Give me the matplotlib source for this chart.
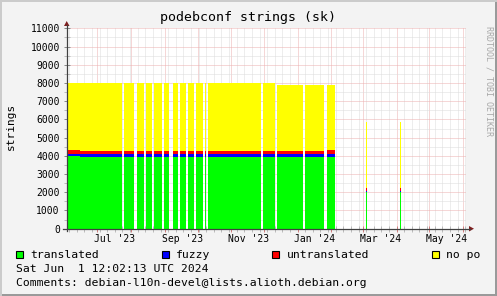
import matplotlib
matplotlib.use("Agg")
import matplotlib.pyplot as plt
import matplotlib.dates as mdates
from matplotlib.lines import Line2D
from matplotlib.patches import Rectangle, Polygon
import numpy as np

# periods with data (start inclusive, end exclusive)
seg_start = ["2023-06-01", "2023-06-15", "2023-07-25", "2023-08-06",
             "2023-08-15", "2023-08-22", "2023-08-31", "2023-09-08", "2023-09-15",
             "2023-09-22", "2023-09-30", "2023-10-08", "2023-10-11", "2023-11-30",
             "2023-12-13", "2024-01-08", "2024-01-28", "2024-03-04", "2024-04-04"]
seg_end = ["2023-06-15", "2023-07-24", "2023-08-04", "2023-08-13",
           "2023-08-20", "2023-08-29", "2023-09-05", "2023-09-13", "2023-09-20",
           "2023-09-28", "2023-10-06", "2023-10-09", "2023-11-28", "2023-12-11",
           "2024-01-06", "2024-01-25", "2024-02-04", "2024-03-05", "2024-04-05"]
translated = [4000, 3940, 3940, 3940, 3940, 3940, 3940, 3940, 3940,
              3940, 3940, 3940, 3950, 3950, 3950, 3950, 3940, 2030, 2030]
fuzzy = [100, 160, 160, 160, 160, 160, 160, 160, 160,
         160, 160, 160, 150, 150, 150, 150, 160, 20, 20]
untranslated = [220, 150, 150, 150, 150, 150, 150, 150, 150,
                150, 150, 150, 180, 150, 150, 150, 200, 200, 200]
total = [8000, 8000, 8000, 8000, 8000, 8000, 8000, 8000, 8000,
         8000, 8000, 8000, 8000, 8000, 7880, 7880, 7880, 5870, 5870]

series_names = ["translated", "fuzzy", "untranslated", "no po"]
series_colors = ["#00FF00", "#0000FF", "#FF0000", "#FFFF00"]

label_dates = ["2023-07-17", "2023-09-17", "2023-11-17", "2024-01-17", "2024-03-17", "2024-05-17"]
label_texts = ["Jul '23", "Sep '23", "Nov '23", "Jan '24", "Mar '24", "May '24"]

plt.rcParams['font.family'] = ['DejaVu Sans Mono']

W, H = 497, 296
fig = plt.figure(figsize=(W / 100, H / 100), dpi=100, facecolor="#F3F3F3")


def fx(px):
    return px / W


def fy(py):
    return 1 - py / H


# 3d frame
fig.add_artist(Rectangle((0, 0), 1, fy(294), transform=fig.transFigure, color="#9A9A9A", lw=0))
fig.add_artist(Rectangle((fx(495), 0), 1, 1, transform=fig.transFigure, color="#9A9A9A", lw=0))
fig.add_artist(Rectangle((0, fy(2)), 1, 1, transform=fig.transFigure, color="#CBCBCB", lw=0))
fig.add_artist(Rectangle((0, 0), fx(2), 1, transform=fig.transFigure, color="#CBCBCB", lw=0))

ax = fig.add_axes([fx(66.7), fy(228.7), fx(466) - fx(66.7), fy(28.3) - fy(228.7)])
ax.set_facecolor("white")
for s in ax.spines.values():
    s.set_visible(False)

starts = mdates.datestr2num(seg_start)
widths = mdates.datestr2num(seg_end) - starts
translated = np.array(translated)
fuzzy = np.array(fuzzy)
untranslated = np.array(untranslated)
no_po = np.array(total) - translated - fuzzy - untranslated

bottom = np.zeros(len(starts))
for vals, color in zip([translated, fuzzy, untranslated, no_po], series_colors):
    ax.bar(starts, vals, width=widths, bottom=bottom, align="edge",
           color=color, linewidth=0, antialiased=False, zorder=2)
    bottom = bottom + vals

ax.set_xlim(mdates.datestr2num("2023-06-02 18:00"), mdates.datestr2num("2024-06-03 18:00"))
ax.set_ylim(0, 11000)

ax.xaxis.set_major_locator(mdates.MonthLocator())
ax.xaxis.set_minor_locator(mdates.WeekdayLocator(byweekday=mdates.MO))
ax.xaxis.set_major_formatter(plt.NullFormatter())
ax.set_yticks(range(0, 11001, 1000))
ax.set_yticks(range(500, 11000, 1000), minor=True)

ax.set_axisbelow(True)
dots = (0, (1, 1))
ax.grid(which="major", color="#EDB0B0", linestyle=dots, lw=0.72)
ax.grid(which="minor", color="#DCDCDC", linestyle=dots, lw=0.72)
ax.tick_params(which="major", direction="inout", length=4, width=0.72, color="#D08080",
               labelsize=7, pad=3)
ax.tick_params(which="minor", direction="inout", length=4, width=0.72, color="#BBBBBB")
ax.tick_params(axis="y", which="major", color="#8A8A8A")

for d, t in zip(label_dates, label_texts):
    ax.text(mdates.datestr2num(d), -0.025, t, transform=ax.get_xaxis_transform(),
            ha="center", va="top", fontsize=7)

# axes with arrows
fig.add_artist(Line2D([fx(66.7), fx(66.7)], [fy(231), fy(25)], transform=fig.transFigure,
                      color="#404040", lw=0.9))
fig.add_artist(Line2D([fx(63), fx(470)], [fy(228.7), fy(228.7)], transform=fig.transFigure,
                      color="#404040", lw=0.9))
fig.add_artist(Polygon([[fx(64), fy(26)], [fx(69.5), fy(26)], [fx(66.7), fy(21)]],
                       transform=fig.transFigure, color="#7F1F1F", lw=0))
fig.add_artist(Polygon([[fx(469), fy(226)], [fx(469), fy(231.5)], [fx(474), fy(228.7)]],
                       transform=fig.transFigure, color="#7F1F1F", lw=0))

fig.text(0.5, fy(18), "podebconf strings (sk)", ha="center", va="center", fontsize=9.5)
fig.text(fx(10.5), fy(126), "strings", rotation=90, ha="center", va="center", fontsize=8)
fig.text(fx(489.5), fy(26), "RRDTOOL / TOBI OETIKER", rotation=270, ha="center", va="top",
         fontsize=6, color="#A8A8A8")

# legend
box_x = [15.7, 161.5, 272, 432]
for bx, name, color in zip(box_x, series_names, series_colors):
    fig.add_artist(Rectangle((fx(bx), fy(258)), fx(7), fy(251) - fy(258),
                             transform=fig.transFigure, facecolor=color,
                             edgecolor="black", lw=0.8))
    fig.text(fx(bx + 14.5), fy(254.5), name, ha="left", va="center", fontsize=8.2)

fig.text(fx(16), fy(268.5), "Sat Jun  1 12:02:13 UTC 2024", ha="left", va="center", fontsize=8.2)
fig.text(fx(16), fy(282.5), "Comments: debian-l10n-devel@lists.alioth.debian.org",
         ha="left", va="center", fontsize=8.2)

fig.savefig("out.png", dpi=100, facecolor=fig.get_facecolor())
